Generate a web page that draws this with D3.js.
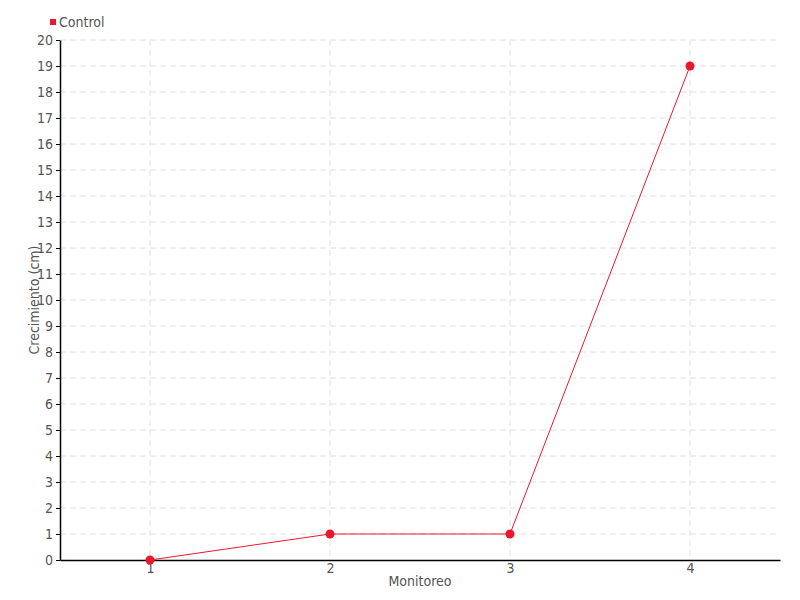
<!DOCTYPE html>
<html><head><meta charset="utf-8">
<script src="https://cdn.jsdelivr.net/npm/d3@7"></script>
<style>
body{margin:0;background:#fff;}
text{font-family:"Liberation Sans Narrow","DejaVu Sans Condensed",sans-serif;fill:#555;}
</style></head>
<body><svg id="c" width="800" height="600"></svg>
<script>
const categories = [1, 2, 3, 4];
const controlValues = [0, 1, 1, 19];
const yTicks = d3.range(0, 21);
const seriesName = "Control";
const xTitle = "Monitoreo";
const yTitle = "Crecimiento (cm)";

const svg = d3.select("#c");
const m = {l:60, r:20, t:40, b:40};
const W = 800, H = 600;
const x = d3.scalePoint().domain(categories).range([m.l, W - m.r]).padding(0.5);
const y = d3.scaleLinear().domain([0, 20]).range([H - m.b, m.t]);
const red = "#e8192c";

// grid
svg.append("g").selectAll("line").data(yTicks.slice(1)).join("line")
  .attr("x1", m.l).attr("x2", W - m.r).attr("y1", d => y(d)).attr("y2", d => y(d))
  .attr("stroke", "#e0e0e0").attr("stroke-dasharray", "6,4");
svg.append("g").selectAll("line").data(categories).join("line")
  .attr("x1", d => x(d)).attr("x2", d => x(d)).attr("y1", m.t).attr("y2", H - m.b)
  .attr("stroke", "#e0e0e0").attr("stroke-dasharray", "6,4");

// y axis
const ya = svg.append("g").attr("transform", `translate(${m.l},0)`)
  .call(d3.axisLeft(y).tickValues(yTicks).tickSize(4).tickPadding(3).tickSizeOuter(0));
ya.select(".domain").attr("stroke", "#000").attr("stroke-width", 1.5);
ya.selectAll(".tick line").attr("stroke", "#000");
ya.selectAll("text").style("font-size", "14px").attr("fill", "#555");

// x axis
const xa = svg.append("g").attr("transform", `translate(0,${H - m.b})`)
  .call(d3.axisBottom(x).tickSize(0).tickPadding(3).tickSizeOuter(0));
xa.select(".domain").attr("stroke", "#000").attr("stroke-width", 1.5);
xa.selectAll("text").style("font-size", "14px").attr("fill", "#555");

// titles
svg.append("text").attr("x", (m.l + W - m.r) / 2).attr("y", 586)
  .attr("text-anchor", "middle").style("font-size", "14px").text(xTitle);
svg.append("text").attr("transform", `translate(39,${(m.t + H - m.b) / 2}) rotate(-90)`)
  .attr("text-anchor", "middle").style("font-size", "14px").text(yTitle);

// line
const data = categories.map((c, i) => ({c, v: controlValues[i]}));
svg.append("path").datum(data)
  .attr("d", d3.line().x(d => x(d.c)).y(d => y(d.v)))
  .attr("fill", "none").attr("stroke", red).attr("stroke-width", 1);
svg.append("g").selectAll("circle").data(data).join("circle")
  .attr("cx", d => x(d.c)).attr("cy", d => y(d.v)).attr("r", 4.5).attr("fill", red);

// legend
svg.append("rect").attr("x", 50).attr("y", 19).attr("width", 6).attr("height", 6).attr("fill", red);
svg.append("text").attr("x", 59).attr("y", 27).style("font-size", "14px").text(seriesName);
</script></body></html>
